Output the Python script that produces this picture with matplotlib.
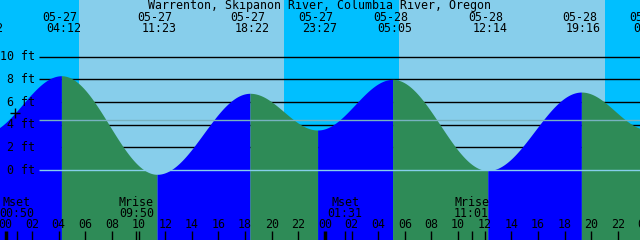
import numpy as np
import matplotlib
matplotlib.use("Agg")
from matplotlib import pyplot as plt
from matplotlib import transforms

title = "Warrenton, Skipanon River, Columbia River, Oregon"

# tide events (high / low)
ev_date = ["05-26", "05-27", "05-27", "05-27", "05-27", "05-28", "05-28", "05-28", "05-29"]
ev_time = ["22:22", "04:12", "11:23", "18:22", "23:27", "05:05", "12:14", "19:16", "00:18"]
ev_level = [3.25, 8.32, -0.38, 6.77, 3.53, 8.0, -0.05, 6.88, 3.55]

# sun
sunrise = ["05-27 05:32", "05-28 05:34"]
sunset = ["05-27 20:57", "05-28 21:03"]

# moon
moon_kind = ["Mset", "Mrise", "Mset", "Mrise"]
moon_date = ["05-27", "05-27", "05-28", "05-28"]
moon_time = ["00:50", "09:50", "01:31", "11:01"]

depth_lines = [2, 4, 6, 8, 10]
mean_level = 4.39
now_time = "05-27 00:43"

NIGHT = "#00BFFF"
DAY = "#87CEEB"
FLOOD = "#0000FF"
EBB = "#2E8B57"

W, H = 640, 240
X0, PX_H = 5.5, 13.31     # pixel of 05-27 00:00, pixels per hour
Y0, PX_FT = 170.0, 11.33  # pixel of 0 ft, pixels per foot


def hours(date, t):
    hh, mm = t.split(":")
    return (int(date[3:]) - 27) * 24 + int(hh) + int(mm) / 60.0


def tide(t, th, lv):
    # cosine shape between successive extremes
    out = np.zeros_like(t)
    for i in range(len(th) - 1):
        m = (t >= th[i]) & (t <= th[i + 1])
        f = (t[m] - th[i]) / (th[i + 1] - th[i])
        out[m] = lv[i] + (lv[i + 1] - lv[i]) * (1 - np.cos(np.pi * f)) / 2
    return out


ev_h = [hours(d, t) for d, t in zip(ev_date, ev_time)]
moon_h = [hours(d, t) for d, t in zip(moon_date, moon_time)]
rise_h = [hours(*s.split()) for s in sunrise]
set_h = [hours(*s.split()) for s in sunset]

xmin, xmax = -X0 / PX_H, (W - X0) / PX_H
ymin, ymax = (Y0 - H) / PX_FT, Y0 / PX_FT

fig = plt.figure(figsize=(6.4, 2.4), dpi=100)
ax = fig.add_axes([0, 0, 1, 1])
ax.set_xlim(xmin, xmax)
ax.set_ylim(ymin, ymax)
ax.axis("off")
fig.patch.set_facecolor(NIGHT)
ax.axvspan(xmin, xmax, color=NIGHT, zorder=0)
for r, s in zip(rise_h, set_h):
    ax.axvspan(r, s, color=DAY, lw=0, zorder=0.5)

blend = transforms.blended_transform_factory(ax.transData, ax.transAxes)
font = dict(family="DejaVu Sans Mono", fontsize=8.4, color="black")


def yf(py):
    return 1 - py / H


# depth lines behind the water
x_line = (39 - X0) / PX_H
ax.hlines(depth_lines, x_line, xmax, color="black", lw=1, zorder=1)
for d in [0] + depth_lines:
    ax.text(35 / W, yf(Y0 - d * PX_FT), f"{d} ft", transform=ax.transAxes,
            ha="right", va="center", **font)

# water
for i in range(len(ev_h) - 1):
    t = np.linspace(ev_h[i], ev_h[i + 1], 200)
    lv = tide(t, ev_h, ev_level)
    col = FLOOD if ev_level[i + 1] > ev_level[i] else EBB
    ax.fill_between(t, lv, ymin, color=col, lw=0, zorder=2)

ax.hlines([0], x_line, xmax, color=DAY, lw=1, zorder=3)
ax.hlines([mean_level], x_line, xmax, color="#78B2C0", lw=1, zorder=3)

nh = hours(*now_time.split())
ax.plot([nh], tide(np.array([nh]), ev_h, ev_level), marker="+", color="black",
        ms=7.5, mew=1, zorder=4)

# top labels
ax.text(0.5, yf(5.5), title, transform=ax.transAxes, ha="center", va="center", **font)
for h, d, t in zip(ev_h, ev_date, ev_time):
    ax.text(h - 2 / PX_H, yf(17.5), d, transform=blend, ha="center", va="center", **font)
    ax.text(h + 2 / PX_H, yf(29), t, transform=blend, ha="center", va="center", **font)

# moon labels
for h, k, t in zip(moon_h, moon_kind, moon_time):
    ax.text(h, yf(202), k, transform=blend, ha="center", va="center", **font)
    ax.text(h, yf(213.5), t, transform=blend, ha="center", va="center", **font)

# hour axis
for hr in range(0, 50, 2):
    ax.text(hr, yf(225), f"{hr % 24:02d}", transform=blend, ha="center", va="center", **font)
    lw = 2.5 if hr % 24 == 0 else 1
    ax.vlines(hr, 0, yf(231), transform=blend, color="black", lw=lw, zorder=5)
ax.vlines(moon_h, 0, yf(231), transform=blend, color="black", lw=1, zorder=5)

fig.savefig("out.png", dpi=100, facecolor=NIGHT)
